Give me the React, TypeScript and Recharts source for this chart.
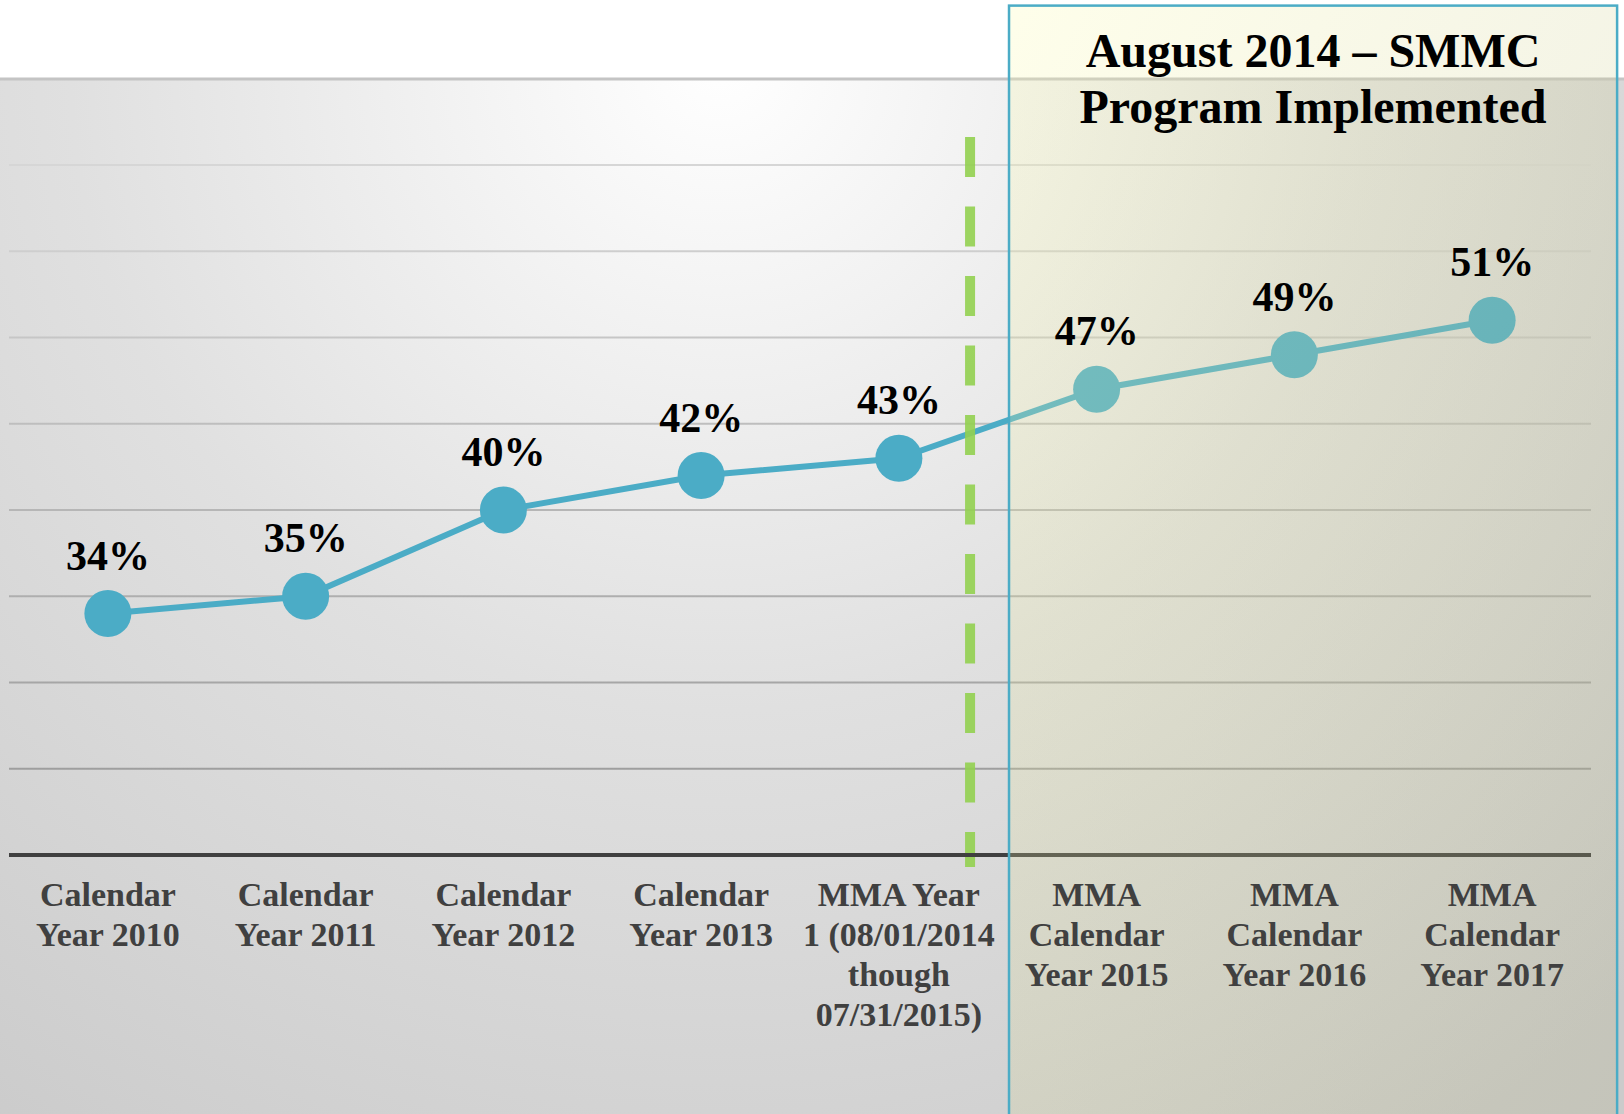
import { LineChart, Line, XAxis, YAxis, CartesianGrid, ReferenceArea, ReferenceLine, LabelList } from 'recharts'

const categories = [
  ['Calendar', 'Year 2010'],
  ['Calendar', 'Year 2011'],
  ['Calendar', 'Year 2012'],
  ['Calendar', 'Year 2013'],
  ['MMA Year', '1 (08/01/2014', 'though', '07/31/2015)'],
  ['MMA', 'Calendar', 'Year 2015'],
  ['MMA', 'Calendar', 'Year 2016'],
  ['MMA', 'Calendar', 'Year 2017'],
]
const rates = [34, 35, 40, 42, 43, 47, 49, 51]
const yTicks = [20, 25, 30, 35, 40, 45, 50, 55, 60]
const noteLines = ['August 2014 – SMMC', 'Program Implemented']

const data = rates.map((rate, i) => ({ idx: i, rate }))

const SERIF = '"Liberation Serif", "Times New Roman", serif'
const W = 1624
const H = 1114

function CategoryTick({ x, y, payload }: any) {
  const lines = categories[payload.value] || []
  return (
    <text x={x} y={y + 51} textAnchor="middle" fontFamily={SERIF} fontWeight="bold" fontSize={34} fill="#404040">
      {lines.map((l, i) => (
        <tspan key={i} x={x} dy={i === 0 ? 0 : 40}>
          {l}
        </tspan>
      ))}
    </text>
  )
}

function RateLabel({ x, y, value }: any) {
  return (
    <text x={x} y={y - 44} textAnchor="middle" fontFamily={SERIF} fontWeight="bold" fontSize={42} fill="#000">
      {value}%
    </text>
  )
}

function NoteBox({ x, y, width, height }: any) {
  return (
    <g>
      <rect x={x} y={y} width={width} height={height} fill="url(#noteFill)" stroke="#4bacc6" strokeWidth={2.5} />
      {noteLines.map((t, i) => (
        <text
          key={i}
          x={x + width / 2}
          y={y + 61 + i * 56}
          textAnchor="middle"
          fontFamily={SERIF}
          fontWeight="bold"
          fontSize={48}
          fill="#000"
        >
          {t}
        </text>
      ))}
    </g>
  )
}

function Backdrop() {
  return (
    <svg width={W} height={H} style={{ position: 'absolute', left: 0, top: 0 }}>
      <defs>
        <radialGradient id="panelFill" gradientUnits="userSpaceOnUse" cx={720} cy={60} r={1300}>
          <stop offset="0" stopColor="#ffffff" />
          <stop offset="0.5" stopColor="#e0e0e0" />
          <stop offset="1" stopColor="#cbcbcb" />
        </radialGradient>
        <linearGradient id="noteFill" x1="0" y1="0" x2="1" y2="1">
          <stop offset="0" stopColor="rgb(252,252,175)" stopOpacity={0.26} />
          <stop offset="1" stopColor="rgb(170,170,120)" stopOpacity={0.2} />
        </linearGradient>
        <linearGradient id="gridStroke" gradientUnits="userSpaceOnUse" x1="0" y1="165" x2="0" y2="770">
          <stop offset="0" stopColor="#d6d6d6" />
          <stop offset="1" stopColor="#9e9e9e" />
        </linearGradient>
      </defs>
      <rect x={0} y={0} width={W} height={H} fill="#fff" />
      <rect x={0} y={79} width={W} height={H - 79} fill="url(#panelFill)" />
      <line x1={0} x2={W} y1={79} y2={79} stroke="#c4c4c4" strokeWidth={3} />
    </svg>
  )
}

export default function App() {
  return (
    <div style={{ position: 'absolute', left: 0, top: 0, width: W, height: H, overflow: 'hidden' }}>
      <Backdrop />
      <div style={{ position: 'absolute', left: 0, top: 0 }}>
        <LineChart width={W} height={H} data={data} margin={{ top: 165, right: 33, bottom: 0, left: 9 }}>
          <CartesianGrid vertical={false} stroke="url(#gridStroke)" strokeWidth={2} />
          <XAxis
            dataKey="idx"
            type="number"
            domain={[-0.5, 7.5]}
            ticks={[0, 1, 2, 3, 4, 5, 6, 7]}
            height={259}
            tickSize={0}
            tickMargin={0}
            tickLine={false}
            axisLine={{ stroke: '#404040', strokeWidth: 4 }}
            tick={<CategoryTick />}
            interval={0}
          />
          <YAxis hide width={0} domain={[20, 60]} ticks={yTicks} />
          <Line
            dataKey="rate"
            stroke="#4bacc6"
            strokeWidth={6}
            dot={{ r: 23.5, fill: '#4bacc6', stroke: 'none', strokeWidth: 0 }}
            activeDot={false}
            isAnimationActive={false}
          >
            <LabelList dataKey="rate" content={<RateLabel />} />
          </Line>
          <ReferenceLine
            segment={[
              { x: 4.36, y: 61.62 },
              { x: 4.36, y: 19.3 },
            ]}
            ifOverflow="visible"
            stroke="#92d050"
            strokeOpacity={0.9}
            strokeWidth={10}
            strokeDasharray="40 29.5"
          />
          <ReferenceArea
            x1={4.557}
            x2={7.632}
            y1={4.6}
            y2={69.24}
            ifOverflow="visible"
            shape={<NoteBox />}
            zIndex={600}
          />
        </LineChart>
      </div>
    </div>
  )
}
